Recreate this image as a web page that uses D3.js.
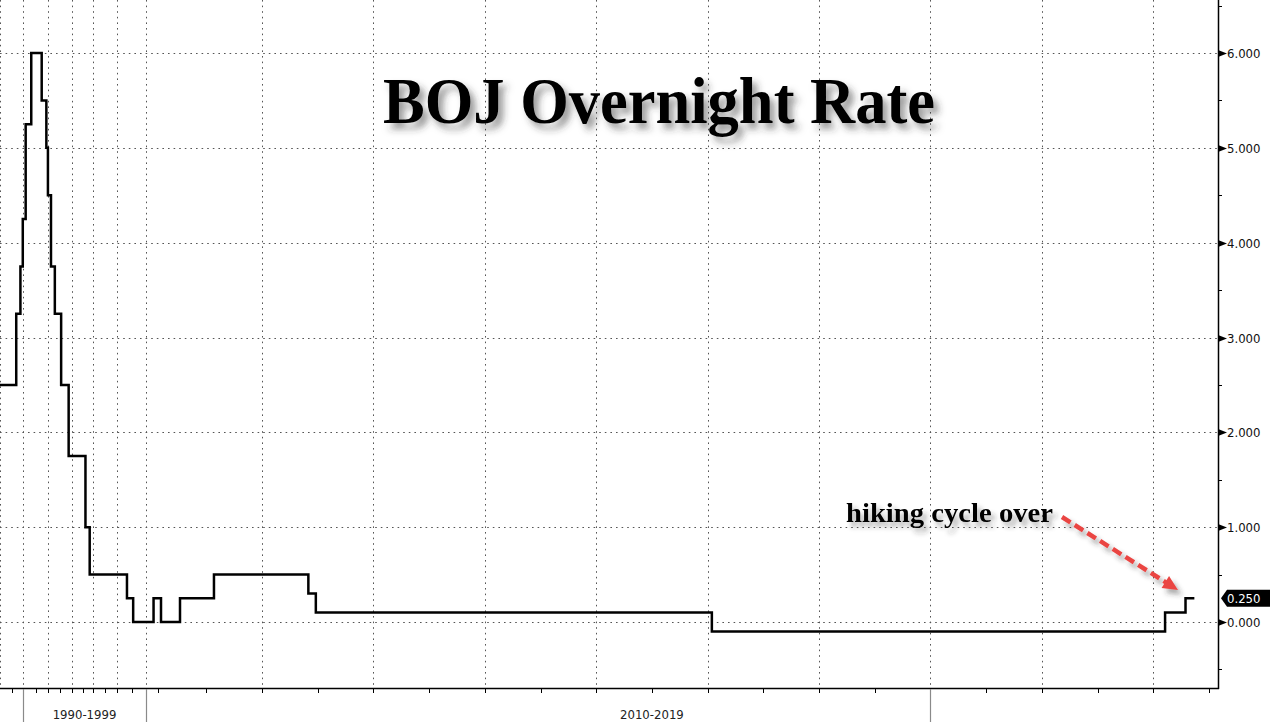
<!DOCTYPE html>
<html><head><meta charset="utf-8">
<script src="https://cdn.jsdelivr.net/npm/d3@7"></script>
<style>html,body{margin:0;padding:0;background:#fff;overflow:hidden}</style>
</head><body><svg id="c" width="1270" height="722"></svg>
<script>
// ---- data ----
const stepDates = ["1988-01-01","1989-05-31","1989-10-11","1989-12-25","1990-03-20","1990-08-30",
  "1991-07-01","1991-11-14","1991-12-30","1992-04-01","1992-07-27","1993-02-04","1993-09-21",
  "1995-04-14","1995-09-08","1998-09-09","1999-02-12","2000-08-11","2001-03-19","2006-07-14",
  "2007-02-21","2008-10-31","2008-12-19","2016-01-29","2024-03-19","2024-07-31"];
const stepValues = [2.5,3.25,3.75,4.25,5.25,6.0,
  5.5,5.0,4.5,3.75,3.25,2.5,1.75,
  1.0,0.5,0.25,0.0,0.25,0.0,0.25,
  0.5,0.3,0.1,-0.1,0.1,0.25];
const lastDate = "2024-09-27";
const yTickValues = [0,1,2,3,4,5,6];
const yMinorValues = [-0.5,0.5,1.5,2.5,3.5,4.5,5.5,6.5];
const gridYears = [1988,1990,1992,1994,1996,1998,2000,2008,2010,2012,2014,2016,2018,2020,2022,2024];
const tickYears = [1989,1990,1991,1992,1993,1994,1995,1996,1997,1998,1999,2000,2001,2007,2008,2009,2010,
  2011,2012,2013,2014,2015,2016,2017,2018,2019,2020,2021,2022,2023,2024,2025];
const dividerYears = [1990,2000,2020];
const eraLabels = ["1990-1999","2010-2019"];
const eraFrom = [1990,2010];
const eraTo = [2000,2020];
const titleText = "BOJ Overnight Rate";
const noteText = "hiking cycle over";

// ---- scales (Bloomberg-style observation-spaced time axis) ----
const P = d3.timeParse("%Y-%m-%d");
const yr = y => new Date(y,0,1);
const x = d3.scaleTime()
  .domain([yr(1988),yr(1990),yr(1992),yr(1994),yr(1996),yr(1998),yr(2000),P("2001-03-19"),P("2006-07-14"),yr(2008),yr(2025)])
  .range([0,23,48,72,93,117,146,161,180,262,1209]);
const plotR = 1218, plotB = 688;
const y = d3.scaleLinear().domain([-0.696,6.559]).range([plotB,0]);
const axisFont = "'DejaVu Sans Condensed','DejaVu Sans',sans-serif";

const svg = d3.select("#c");
const defs = svg.append("defs");
const f = defs.append("filter").attr("id","sh").attr("x","-10%").attr("y","-20%").attr("width","130%").attr("height","160%");
f.append("feDropShadow").attr("dx",5).attr("dy",6).attr("stdDeviation",3.5).attr("flood-color","#333").attr("flood-opacity",0.5);
const f2 = defs.append("filter").attr("id","sh2").attr("x","-10%").attr("y","-30%").attr("width","130%").attr("height","180%");
f2.append("feDropShadow").attr("dx",4).attr("dy",5).attr("stdDeviation",2.5).attr("flood-color","#333").attr("flood-opacity",0.4);

svg.append("rect").attr("width",1270).attr("height",722).attr("fill","#fff");

// grid
const grid = svg.append("g").attr("stroke","#555").attr("stroke-width",1).attr("stroke-dasharray","1.6,4").attr("fill","none");
grid.selectAll("line.h").data(yTickValues).join("line").attr("class","h")
  .attr("x1",0).attr("x2",plotR).attr("y1",d=>Math.round(y(d))+0.5).attr("y2",d=>Math.round(y(d))+0.5);
grid.selectAll("line.v").data(gridYears).join("line").attr("class","v")
  .attr("x1",d=>Math.round(x(yr(d)))+0.5).attr("x2",d=>Math.round(x(yr(d)))+0.5).attr("y1",0).attr("y2",plotB);

// title
svg.append("text").attr("x",659).attr("y",123).attr("text-anchor","middle")
  .attr("font-family","'Liberation Serif','Times New Roman',serif").attr("font-weight","bold")
  .attr("font-size",66).attr("textLength",552).attr("lengthAdjust","spacingAndGlyphs")
  .attr("fill","#000").attr("filter","url(#sh)").text(titleText);

// series
const pts = stepDates.map((d,i)=>({d:P(d),v:stepValues[i]}));
pts.push({d:P(lastDate),v:stepValues[stepValues.length-1]});
const line = d3.line().x(p=>x(p.d)).y(p=>y(p.v)).curve(d3.curveStepAfter);
svg.append("path").datum(pts).attr("d",line).attr("fill","none").attr("stroke","#000")
  .attr("stroke-width",2.5).attr("stroke-linejoin","miter");

// annotation
svg.append("text").attr("x",846).attr("y",522)
  .attr("font-family","'Liberation Serif','Times New Roman',serif").attr("font-weight","bold")
  .attr("font-size",28).attr("textLength",207).attr("lengthAdjust","spacingAndGlyphs")
  .attr("fill","#000").attr("filter","url(#sh2)").text(noteText);
const ax0 = 1062, ay0 = 517, ax1 = 1178, ay1 = 590;
const ang = Math.atan2(ay1-ay0, ax1-ax0);
const hl = 15, hw = 7;
const bx = ax1 - hl*Math.cos(ang), by = ay1 - hl*Math.sin(ang);
const arr = svg.append("g").attr("filter","url(#sh2)");
arr.append("line").attr("x1",ax0).attr("y1",ay0).attr("x2",bx+2*Math.cos(ang)).attr("y2",by+2*Math.sin(ang))
  .attr("stroke","#ea4543").attr("stroke-width",4.5).attr("stroke-dasharray","10,5");
arr.append("path").attr("fill","#ea4543")
  .attr("d",`M${ax1},${ay1}L${bx - hw*Math.sin(ang)},${by + hw*Math.cos(ang)}L${bx + hw*Math.sin(ang)},${by - hw*Math.cos(ang)}Z`);

// bottom axis
const bax = svg.append("g");
bax.append("line").attr("x1",0).attr("x2",plotR+1).attr("y1",plotB+0.5).attr("y2",plotB+0.5).attr("stroke","#000").attr("stroke-width",1.5);
bax.selectAll("line.t").data(tickYears).join("line").attr("class","t")
  .attr("x1",d=>Math.round(x(yr(d)))+0.5).attr("x2",d=>Math.round(x(yr(d)))+0.5)
  .attr("y1",plotB).attr("y2",plotB+5).attr("stroke","#000").attr("stroke-width",1);
bax.selectAll("line.dv").data(dividerYears).join("line").attr("class","dv")
  .attr("x1",d=>Math.round(x(yr(d)))+0.5).attr("x2",d=>Math.round(x(yr(d)))+0.5)
  .attr("y1",plotB+1).attr("y2",722).attr("stroke","#8a8a8a").attr("stroke-width",1.2);
bax.selectAll("text").data(eraLabels).join("text")
  .attr("x",(d,i)=>(x(yr(eraFrom[i]))+x(yr(eraTo[i])))/2).attr("y",719)
  .attr("text-anchor","middle").attr("font-family",axisFont).attr("font-size",13)
  .attr("fill","#222").text(d=>d);

// right axis
const rax = svg.append("g");
rax.append("line").attr("x1",plotR+0.5).attr("x2",plotR+0.5).attr("y1",0).attr("y2",plotB+1).attr("stroke","#000").attr("stroke-width",1.5);
rax.selectAll("line.m").data(yMinorValues).join("line").attr("class","m")
  .attr("x1",plotR).attr("x2",plotR+4).attr("y1",d=>Math.round(y(d))+0.5).attr("y2",d=>Math.round(y(d))+0.5)
  .attr("stroke","#000").attr("stroke-width",1);
rax.selectAll("path.tri").data(yTickValues).join("path").attr("class","tri")
  .attr("d",d=>{const yy=Math.round(y(d))+0.5;return `M${plotR},${yy-3.5}L${plotR+9},${yy}L${plotR},${yy+3.5}Z`;})
  .attr("fill","#000");
rax.selectAll("text").data(yTickValues).join("text")
  .attr("x",plotR+9).attr("y",d=>y(d)+5)
  .attr("font-family",axisFont).attr("font-size",13).attr("fill","#111")
  .text(d=>d3.format(".3f")(d));

// last value box
const lv = stepValues[stepValues.length-1];
const ly = y(lv);
svg.append("path").attr("fill","#000")
  .attr("d",`M${plotR+3},${ly}L${plotR+9},${ly-8.5}L1270,${ly-8.5}L1270,${ly+8.5}L${plotR+9},${ly+8.5}Z`);
svg.append("text").attr("x",plotR+9).attr("y",ly+5)
  .attr("font-family",axisFont).attr("font-size",13).attr("fill","#fff")
  .text(d3.format(".3f")(lv));
</script></body></html>
